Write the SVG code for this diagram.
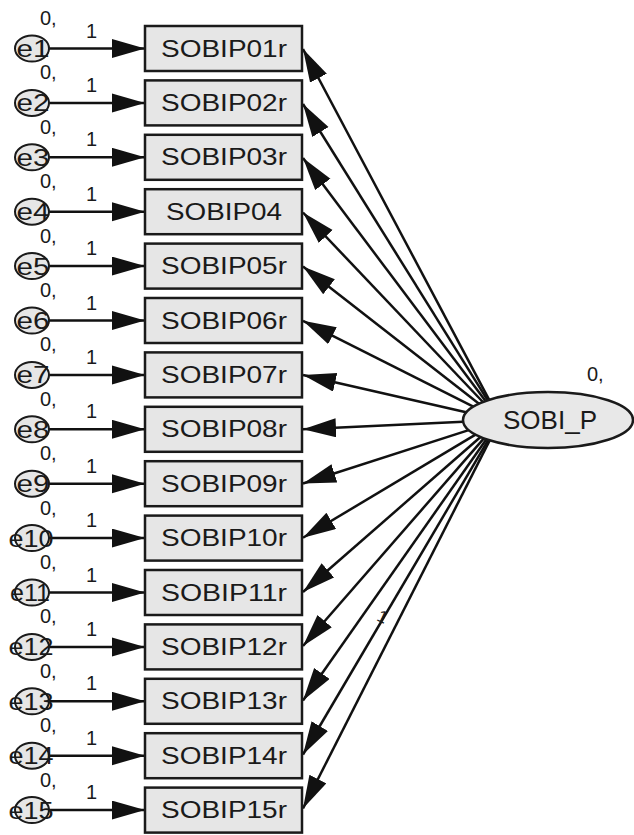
<svg xmlns="http://www.w3.org/2000/svg" width="634" height="835" viewBox="0 0 634 835">
<style>
.box{fill:#e6e6e6;stroke:#1a1a1a;stroke-width:2.5}
.err{fill:#e6e6e6;stroke:#1a1a1a;stroke-width:2}
.lat{fill:#e8e8e8;stroke:#1a1a1a;stroke-width:2.5}
.t{font-family:"Liberation Sans",Arial,sans-serif;fill:#1a1a1a}
.bt{font-size:23px;text-anchor:middle}
.et{font-size:23px;text-anchor:middle}
.sm{font-size:20px}
.c line{stroke:#111;stroke-width:2.5}
</style>
<defs>
<marker id="ah" markerUnits="userSpaceOnUse" markerWidth="36" markerHeight="22" refX="33" refY="9.5" orient="auto"><path d="M0,0 L33,9.5 L0,19 z" fill="#111"/></marker>
</defs>
<g id="connectors" class="c">
<line x1="48" y1="48.5" x2="145" y2="48.5" marker-end="url(#ah)"/>
<line x1="48" y1="102.9" x2="145" y2="102.9" marker-end="url(#ah)"/>
<line x1="48" y1="157.3" x2="145" y2="157.3" marker-end="url(#ah)"/>
<line x1="48" y1="211.7" x2="145" y2="211.7" marker-end="url(#ah)"/>
<line x1="48" y1="266.1" x2="145" y2="266.1" marker-end="url(#ah)"/>
<line x1="48" y1="320.5" x2="145" y2="320.5" marker-end="url(#ah)"/>
<line x1="48" y1="374.9" x2="145" y2="374.9" marker-end="url(#ah)"/>
<line x1="48" y1="429.3" x2="145" y2="429.3" marker-end="url(#ah)"/>
<line x1="48" y1="483.7" x2="145" y2="483.7" marker-end="url(#ah)"/>
<line x1="48" y1="538.1" x2="145" y2="538.1" marker-end="url(#ah)"/>
<line x1="48" y1="592.5" x2="145" y2="592.5" marker-end="url(#ah)"/>
<line x1="48" y1="646.9" x2="145" y2="646.9" marker-end="url(#ah)"/>
<line x1="48" y1="701.3" x2="145" y2="701.3" marker-end="url(#ah)"/>
<line x1="48" y1="755.7" x2="145" y2="755.7" marker-end="url(#ah)"/>
<line x1="48" y1="810.1" x2="145" y2="810.1" marker-end="url(#ah)"/>
<line x1="489.2" y1="399.8" x2="303" y2="49" marker-end="url(#ah)"/>
<line x1="487.7" y1="400.3" x2="303" y2="104" marker-end="url(#ah)"/>
<line x1="485.6" y1="401.0" x2="303" y2="158" marker-end="url(#ah)"/>
<line x1="482.9" y1="402.0" x2="303" y2="212.5" marker-end="url(#ah)"/>
<line x1="479.0" y1="403.7" x2="303" y2="266.5" marker-end="url(#ah)"/>
<line x1="473.3" y1="406.6" x2="303" y2="320.8" marker-end="url(#ah)"/>
<line x1="466.1" y1="412.3" x2="303" y2="375" marker-end="url(#ah)"/>
<line x1="463.2" y1="421.7" x2="303" y2="429.3" marker-end="url(#ah)"/>
<line x1="468.7" y1="430.1" x2="303" y2="483.5" marker-end="url(#ah)"/>
<line x1="475.5" y1="434.6" x2="303" y2="537.8" marker-end="url(#ah)"/>
<line x1="480.5" y1="437.0" x2="303" y2="592" marker-end="url(#ah)"/>
<line x1="483.9" y1="438.4" x2="303" y2="646" marker-end="url(#ah)"/>
<line x1="486.4" y1="439.3" x2="303" y2="700.5" marker-end="url(#ah)"/>
<line x1="488.3" y1="439.9" x2="303" y2="754.5" marker-end="url(#ah)"/>
<line x1="489.7" y1="440.4" x2="303" y2="808.5" marker-end="url(#ah)"/>
<text class="t" font-size="17" transform="translate(380,622) rotate(25)" text-anchor="middle">1</text>
</g>
<g id="SOBI_P"><ellipse class="lat" cx="548" cy="420" rx="85" ry="28"/><text class="t" x="550" y="429" font-size="25" text-anchor="middle" textLength="94" lengthAdjust="spacingAndGlyphs">SOBI_P</text><text class="t sm" x="587" y="381">0,</text></g>
<g id="n1"><rect class="box" x="145" y="26" width="157" height="45"/><text class="t bt" x="224" y="56.5" textLength="126" lengthAdjust="spacingAndGlyphs">SOBIP01r</text></g>
<g id="n2"><rect class="box" x="145" y="80.4" width="157" height="45"/><text class="t bt" x="224" y="110.9" textLength="126" lengthAdjust="spacingAndGlyphs">SOBIP02r</text></g>
<g id="n3"><rect class="box" x="145" y="134.8" width="157" height="45"/><text class="t bt" x="224" y="165.3" textLength="126" lengthAdjust="spacingAndGlyphs">SOBIP03r</text></g>
<g id="n4"><rect class="box" x="145" y="189.2" width="157" height="45"/><text class="t bt" x="224" y="219.7" textLength="116" lengthAdjust="spacingAndGlyphs">SOBIP04</text></g>
<g id="n5"><rect class="box" x="145" y="243.6" width="157" height="45"/><text class="t bt" x="224" y="274.1" textLength="126" lengthAdjust="spacingAndGlyphs">SOBIP05r</text></g>
<g id="n6"><rect class="box" x="145" y="298" width="157" height="45"/><text class="t bt" x="224" y="328.5" textLength="126" lengthAdjust="spacingAndGlyphs">SOBIP06r</text></g>
<g id="n7"><rect class="box" x="145" y="352.4" width="157" height="45"/><text class="t bt" x="224" y="382.9" textLength="126" lengthAdjust="spacingAndGlyphs">SOBIP07r</text></g>
<g id="n8"><rect class="box" x="145" y="406.8" width="157" height="45"/><text class="t bt" x="224" y="437.3" textLength="126" lengthAdjust="spacingAndGlyphs">SOBIP08r</text></g>
<g id="n9"><rect class="box" x="145" y="461.2" width="157" height="45"/><text class="t bt" x="224" y="491.7" textLength="126" lengthAdjust="spacingAndGlyphs">SOBIP09r</text></g>
<g id="n10"><rect class="box" x="145" y="515.6" width="157" height="45"/><text class="t bt" x="224" y="546.1" textLength="126" lengthAdjust="spacingAndGlyphs">SOBIP10r</text></g>
<g id="n11"><rect class="box" x="145" y="570" width="157" height="45"/><text class="t bt" x="224" y="600.5" textLength="126" lengthAdjust="spacingAndGlyphs">SOBIP11r</text></g>
<g id="n12"><rect class="box" x="145" y="624.4" width="157" height="45"/><text class="t bt" x="224" y="654.9" textLength="126" lengthAdjust="spacingAndGlyphs">SOBIP12r</text></g>
<g id="n13"><rect class="box" x="145" y="678.8" width="157" height="45"/><text class="t bt" x="224" y="709.3" textLength="126" lengthAdjust="spacingAndGlyphs">SOBIP13r</text></g>
<g id="n14"><rect class="box" x="145" y="733.2" width="157" height="45"/><text class="t bt" x="224" y="763.7" textLength="126" lengthAdjust="spacingAndGlyphs">SOBIP14r</text></g>
<g id="n15"><rect class="box" x="145" y="787.6" width="157" height="45"/><text class="t bt" x="224" y="818.1" textLength="126" lengthAdjust="spacingAndGlyphs">SOBIP15r</text></g>
<g id="e1"><ellipse class="err" cx="32" cy="48.5" rx="17" ry="13"/><text class="t et" x="33" y="57" textLength="33" lengthAdjust="spacingAndGlyphs">e1</text><text class="t sm" x="40" y="25">0,</text><text class="t sm" x="86" y="37.5">1</text></g>
<g id="e2"><ellipse class="err" cx="32" cy="102.9" rx="17" ry="13"/><text class="t et" x="33" y="111.4" textLength="33" lengthAdjust="spacingAndGlyphs">e2</text><text class="t sm" x="40" y="79.4">0,</text><text class="t sm" x="86" y="91.9">1</text></g>
<g id="e3"><ellipse class="err" cx="32" cy="157.3" rx="17" ry="13"/><text class="t et" x="33" y="165.8" textLength="33" lengthAdjust="spacingAndGlyphs">e3</text><text class="t sm" x="40" y="133.8">0,</text><text class="t sm" x="86" y="146.3">1</text></g>
<g id="e4"><ellipse class="err" cx="32" cy="211.7" rx="17" ry="13"/><text class="t et" x="33" y="220.2" textLength="33" lengthAdjust="spacingAndGlyphs">e4</text><text class="t sm" x="40" y="188.2">0,</text><text class="t sm" x="86" y="200.7">1</text></g>
<g id="e5"><ellipse class="err" cx="32" cy="266.1" rx="17" ry="13"/><text class="t et" x="33" y="274.6" textLength="33" lengthAdjust="spacingAndGlyphs">e5</text><text class="t sm" x="40" y="242.6">0,</text><text class="t sm" x="86" y="255.1">1</text></g>
<g id="e6"><ellipse class="err" cx="32" cy="320.5" rx="17" ry="13"/><text class="t et" x="33" y="329" textLength="33" lengthAdjust="spacingAndGlyphs">e6</text><text class="t sm" x="40" y="297">0,</text><text class="t sm" x="86" y="309.5">1</text></g>
<g id="e7"><ellipse class="err" cx="32" cy="374.9" rx="17" ry="13"/><text class="t et" x="33" y="383.4" textLength="33" lengthAdjust="spacingAndGlyphs">e7</text><text class="t sm" x="40" y="351.4">0,</text><text class="t sm" x="86" y="363.9">1</text></g>
<g id="e8"><ellipse class="err" cx="32" cy="429.3" rx="17" ry="13"/><text class="t et" x="33" y="437.8" textLength="33" lengthAdjust="spacingAndGlyphs">e8</text><text class="t sm" x="40" y="405.8">0,</text><text class="t sm" x="86" y="418.3">1</text></g>
<g id="e9"><ellipse class="err" cx="32" cy="483.7" rx="17" ry="13"/><text class="t et" x="33" y="492.2" textLength="33" lengthAdjust="spacingAndGlyphs">e9</text><text class="t sm" x="40" y="460.2">0,</text><text class="t sm" x="86" y="472.7">1</text></g>
<g id="e10"><ellipse class="err" cx="32" cy="538.1" rx="17" ry="13"/><text class="t et" x="31" y="546.6" textLength="45" lengthAdjust="spacingAndGlyphs">e10</text><text class="t sm" x="40" y="514.6">0,</text><text class="t sm" x="86" y="527.1">1</text></g>
<g id="e11"><ellipse class="err" cx="32" cy="592.5" rx="17" ry="13"/><text class="t et" x="30" y="601" textLength="40" lengthAdjust="spacingAndGlyphs">e11</text><text class="t sm" x="40" y="569">0,</text><text class="t sm" x="86" y="581.5">1</text></g>
<g id="e12"><ellipse class="err" cx="32" cy="646.9" rx="17" ry="13"/><text class="t et" x="31" y="655.4" textLength="45" lengthAdjust="spacingAndGlyphs">e12</text><text class="t sm" x="40" y="623.4">0,</text><text class="t sm" x="86" y="635.9">1</text></g>
<g id="e13"><ellipse class="err" cx="32" cy="701.3" rx="17" ry="13"/><text class="t et" x="31" y="709.8" textLength="45" lengthAdjust="spacingAndGlyphs">e13</text><text class="t sm" x="40" y="677.8">0,</text><text class="t sm" x="86" y="690.3">1</text></g>
<g id="e14"><ellipse class="err" cx="32" cy="755.7" rx="17" ry="13"/><text class="t et" x="31" y="764.2" textLength="45" lengthAdjust="spacingAndGlyphs">e14</text><text class="t sm" x="40" y="732.2">0,</text><text class="t sm" x="86" y="744.7">1</text></g>
<g id="e15"><ellipse class="err" cx="32" cy="810.1" rx="17" ry="13"/><text class="t et" x="31" y="818.6" textLength="45" lengthAdjust="spacingAndGlyphs">e15</text><text class="t sm" x="40" y="786.6">0,</text><text class="t sm" x="86" y="799.1">1</text></g>
</svg>
